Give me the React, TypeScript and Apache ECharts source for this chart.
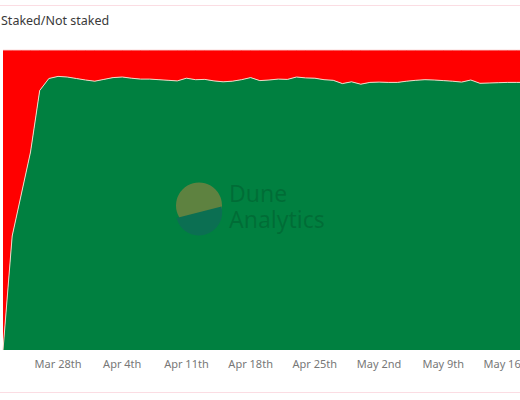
import React, { useEffect, useRef } from "react";
import * as echarts from "echarts";

const dates: string[] = [
  "Mar 22nd", "Mar 23rd", "Mar 24th", "Mar 25th", "Mar 26th", "Mar 27th", "Mar 28th",
  "Mar 29th", "Mar 30th", "Mar 31st", "Apr 1st", "Apr 2nd", "Apr 3rd", "Apr 4th",
  "Apr 5th", "Apr 6th", "Apr 7th", "Apr 8th", "Apr 9th", "Apr 10th", "Apr 11th",
  "Apr 12th", "Apr 13th", "Apr 14th", "Apr 15th", "Apr 16th", "Apr 17th", "Apr 18th",
  "Apr 19th", "Apr 20th", "Apr 21st", "Apr 22nd", "Apr 23rd", "Apr 24th", "Apr 25th",
  "Apr 26th", "Apr 27th", "Apr 28th", "Apr 29th", "Apr 30th", "May 1st", "May 2nd",
  "May 3rd", "May 4th", "May 5th", "May 6th", "May 7th", "May 8th", "May 9th",
  "May 10th", "May 11th", "May 12th", "May 13th", "May 14th", "May 15th", "May 16th",
  "May 17th", "May 18th", "May 19th",
];

const labelDates: string[] = [
  "Mar 28th", "Apr 4th", "Apr 11th", "Apr 18th", "Apr 25th", "May 2nd", "May 9th", "May 16th",
];

const stakedPct: number[] = [
  0, 38, 52, 66, 86.5, 90.5, 91.2, 91, 90.5, 90, 89.6, 90.2, 90.8, 91,
  90.6, 90.3, 90.3, 90.1, 89.9, 89.7, 90.6, 90.1, 90.2, 89.7, 89.4, 89.6, 90.1, 90.8,
  89.8, 90, 90.3, 90.2, 91, 90.7, 90.6, 90.1, 89.9, 88.8, 89.4, 88.6, 89.2, 89.3,
  89.2, 89.2, 89.6, 89.9, 90.1, 90, 89.8, 89.6, 89.3, 90, 88.9, 89, 89.1, 89.2,
  89.2, 89.2, 89.2,
];

const notStakedPct: number[] = [
  100, 62, 48, 34, 13.5, 9.5, 8.8, 9, 9.5, 10, 10.4, 9.8, 9.2, 9,
  9.4, 9.7, 9.7, 9.9, 10.1, 10.3, 9.4, 9.9, 9.8, 10.3, 10.6, 10.4, 9.9, 9.2,
  10.2, 10, 9.7, 9.8, 9, 9.3, 9.4, 9.9, 10.1, 11.2, 10.6, 11.4, 10.8, 10.7,
  10.8, 10.8, 10.4, 10.1, 9.9, 10, 10.2, 10.4, 10.7, 10, 11.1, 11, 10.9, 10.8,
  10.8, 10.8, 10.8,
];

const lowerArc =
  "M 176.5 218 L 221.5 206.5 A 23 23 0 0 1 176.5 218 Z";

export default function App() {
  const ref = useRef<HTMLDivElement>(null);

  useEffect(() => {
    if (!ref.current) return;
    try {
      echarts.graphic.registerShape(
        "duneLower",
        (echarts.graphic as any).extendPath(lowerArc, {})
      );
    } catch (e) {}
    const chart = echarts.init(ref.current, null, { renderer: "svg" });
    chart.setOption({
      animation: false,
      backgroundColor: "#ffffff",
      title: {
        text: "Staked/Not staked",
        left: 1,
        top: 14,
        padding: 0,
        textStyle: {
          fontFamily: "Noto Sans",
          fontSize: 12.5,
          fontWeight: "normal",
          color: "#3a3a3a",
        },
      },
      grid: { left: 3, top: 50, width: 532, height: 300 },
      xAxis: {
        type: "category",
        boundaryGap: false,
        data: dates,
        axisLine: { show: false },
        axisTick: { show: false },
        splitLine: { show: false },
        axisLabel: {
          interval: (_i: number, v: string) => labelDates.indexOf(v) >= 0,
          color: "#777777",
          fontFamily: "Noto Sans",
          fontSize: 11,
          margin: 8,
        },
      },
      yAxis: {
        type: "value",
        min: 0,
        max: 100,
        show: false,
      },
      series: [
        {
          name: "Staked",
          type: "line",
          stack: "total",
          data: stakedPct,
          symbol: "none",
          lineStyle: { color: "#f3d6c4", width: 1 },
          areaStyle: { color: "#008040", opacity: 1 },
          z: 3,
        },
        {
          name: "Not staked",
          type: "line",
          stack: "total",
          data: notStakedPct,
          symbol: "none",
          lineStyle: { color: "#f7b7b7", width: 1 },
          areaStyle: { color: "#ff0000", opacity: 1 },
          z: 2,
        },
      ],
      graphic: [
        {
          type: "line",
          shape: { x1: 0, y1: 5.5, x2: 520, y2: 5.5 },
          style: { stroke: "#fbdde3", lineWidth: 1 },
          z: 10,
        },
        {
          type: "line",
          shape: { x1: 0, y1: 392.5, x2: 520, y2: 392.5 },
          style: { stroke: "#fbdde3", lineWidth: 1 },
          z: 10,
        },
        {
          type: "circle",
          shape: { cx: 199, cy: 205.5, r: 23 },
          style: { fill: "#5e8240" },
          z: 10,
        },
        {
          type: "duneLower",
          x: 0,
          y: 0,
          scaleX: 1,
          scaleY: 1,
          style: { fill: "#0b6f52" },
          z: 11,
        },
        {
          type: "text",
          x: 229,
          y: 193,
          style: {
            text: "Dune",
            fontFamily: "Noto Sans",
            fontSize: 23,
            verticalAlign: "middle",
            fill: "rgba(0,60,30,0.28)",
          },
          z: 10,
        },
        {
          type: "text",
          x: 229,
          y: 219,
          style: {
            text: "Analytics",
            fontFamily: "Noto Sans",
            fontSize: 23,
            verticalAlign: "middle",
            fill: "rgba(0,60,30,0.28)",
          },
          z: 10,
        },
      ],
    });
    return () => chart.dispose();
  }, []);

  return (
    <div
      style={{
        position: "absolute",
        left: 0,
        top: 0,
        width: 520,
        height: 400,
        overflow: "hidden",
      }}
    >
      <div ref={ref} style={{ width: 540, height: 400 }} />
    </div>
  );
}
